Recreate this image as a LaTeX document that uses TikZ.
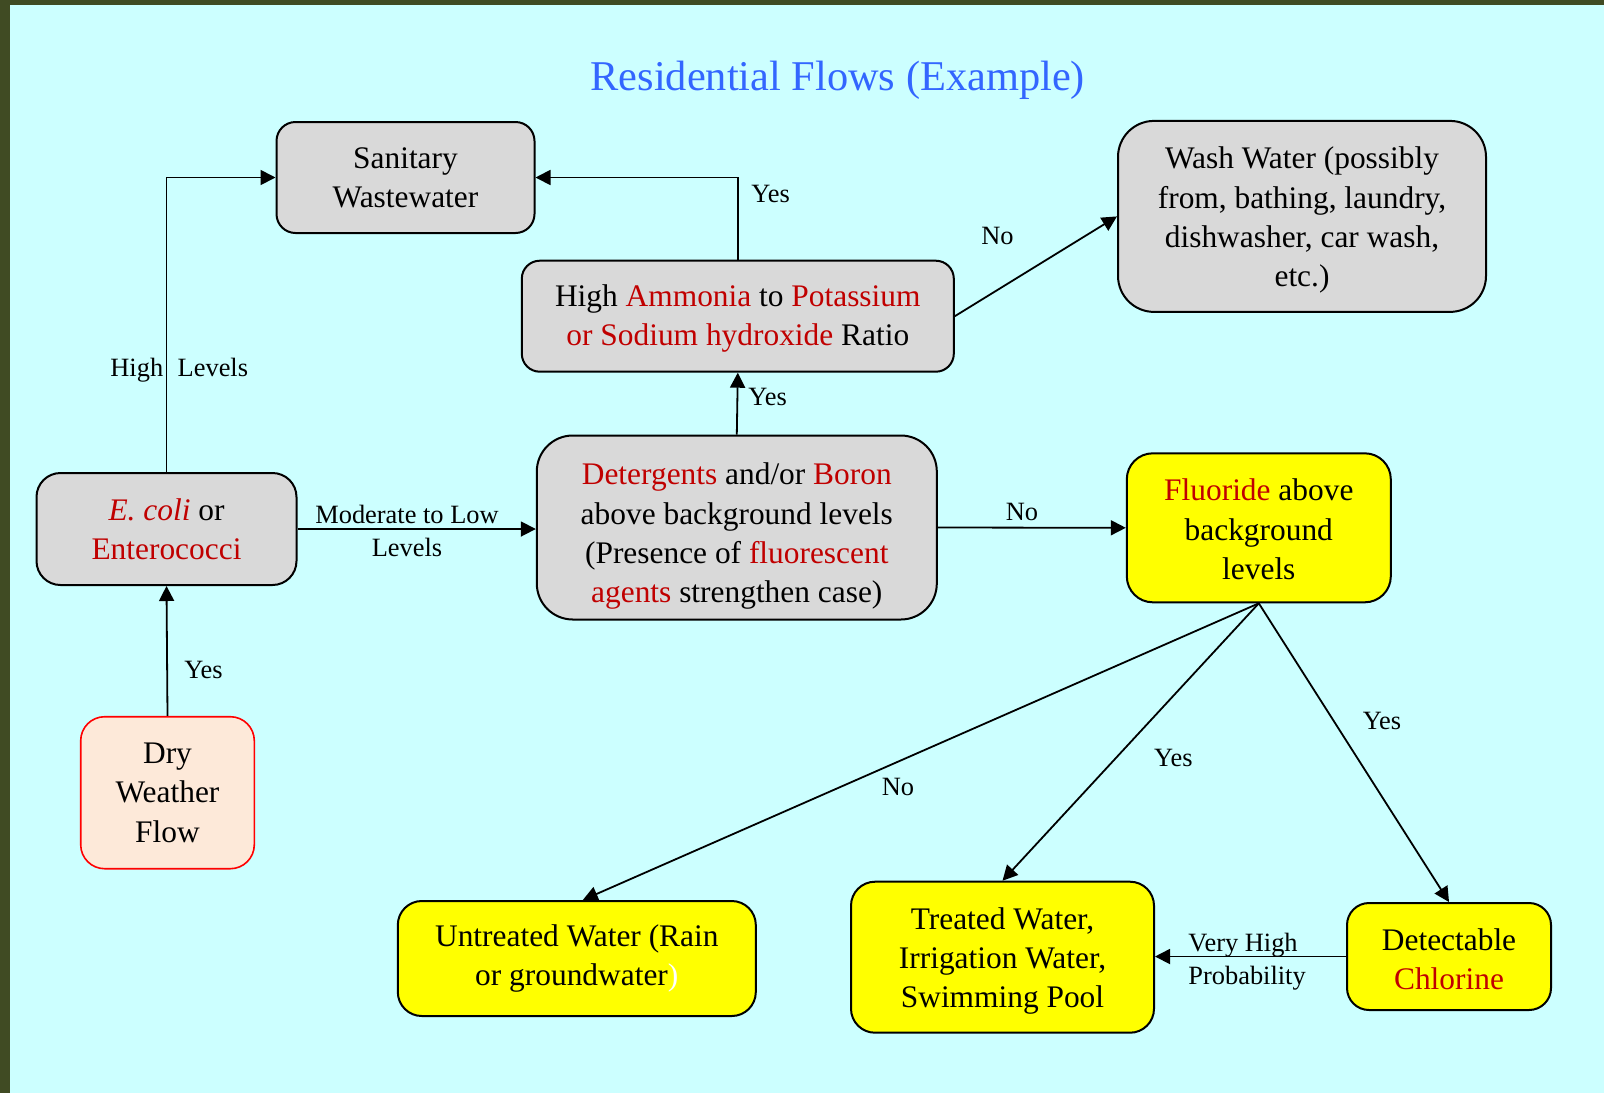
\documentclass[tikz,border=0pt]{standalone}
\usepackage{fontspec}
\setmainfont{Liberation Serif}
\usetikzlibrary{arrows.meta,calc}
\definecolor{bgcyan}{RGB}{204,255,255}
\definecolor{framegreen}{RGB}{64,75,35}
\definecolor{boxgray}{RGB}{217,217,217}
\definecolor{txtred}{RGB}{192,0,0}
\definecolor{titleblue}{RGB}{51,102,255}
\definecolor{peach}{RGB}{253,233,217}
\definecolor{yel}{RGB}{255,255,0}
\newcommand{\rd}[1]{\textcolor{txtred}{#1}}
\begin{document}
\begin{tikzpicture}[x=0.5pt,y=-0.5pt,
  box/.style={draw=black, line width=1pt, align=center, inner sep=0pt,
    font=\fontsize{15.7}{19.65}\selectfont},
  graybox/.style={box, fill=boxgray},
  yelbox/.style={box, fill=yel},
  tshift/.style 2 args={text height=#1, text depth=#2},
  conn/.style={line width=0.9pt, -{Triangle[length=7.5pt,width=7.5pt]}},
  lbl/.style={font=\fontsize{13.2}{16.5}\selectfont, inner sep=0pt, align=center},
]
\useasboundingbox (0,0) rectangle (1604,1093);
\fill[bgcyan] (0,0) rectangle (1604,1093);
\fill[framegreen] (0,0) rectangle (10,1093);
\fill[framegreen] (0,0) rectangle (1604,5);

\node[font=\fontsize{21.2}{25}\selectfont, text=titleblue, inner sep=0pt, anchor=base] (title) at (837.7,90) {Residential Flows (Example)};

\node[graybox, minimum width=129pt, minimum height=55.5pt, rounded corners=9.5pt] (san) at (405.5,177.5) {Sanitary\\Wastewater};
\node[graybox, tshift={73.85pt}{3.4pt}, minimum width=184pt, minimum height=95.5pt, rounded corners=18pt] (wash) at (1302,216.4) {Wash Water (possibly\\from, bathing, laundry,\\dishwasher, car wash,\\etc.)};
\node[graybox, tshift={33.15pt}{3.4pt}, minimum width=216pt, minimum height=55.5pt, rounded corners=9pt] (amm) at (737.8,316.2) {High \rd{Ammonia} to \rd{Potassium}\\\rd{or Sodium hydroxide} Ratio};
\node[graybox, minimum width=130pt, minimum height=56pt, rounded corners=12pt] (ecoli) at (166.5,529) {\rd{\textit{E. coli}} or\\\rd{Enterococci}};
\node[graybox, tshift={78.55pt}{3.4pt}, minimum width=200pt, minimum height=92pt, rounded corners=18pt] (det) at (736.8,527.5) {\rd{Detergents} and/or \rd{Boron}\\above background levels\\(Presence of \rd{fluorescent}\\\rd{agents} strengthen case)};
\node[yelbox, tshift={51.7pt}{0.2pt}, minimum width=132pt, minimum height=74.5pt, rounded corners=13pt] (fl) at (1258.8,527.8) {\rd{Fluoride} above\\background\\levels};
\node[box, fill=peach, draw=red, line width=0.8pt, minimum width=86.8pt, minimum height=76pt, rounded corners=12pt] (dry) at (167.5,792.7) {Dry\\Weather\\Flow};
\node[yelbox, minimum width=179pt, minimum height=57.5pt, rounded corners=12pt] (unt) at (576.8,958.5) {Untreated Water (Rain\\or groundwater\textcolor{white}{)}};
\node[yelbox, tshift={53.8pt}{3.4pt}, minimum width=151.5pt, minimum height=75.5pt, rounded corners=12pt] (trt) at (1002.5,957.2) {Treated Water,\\Irrigation Water,\\Swimming Pool};
\node[yelbox, tshift={33.55pt}{0.2pt}, minimum width=102pt, minimum height=53.5pt, rounded corners=11pt] (dchl) at (1449,956.5) {Detectable\\\rd{Chlorine}};

\draw[conn] (dry.north) -- (ecoli.south);
\draw[conn] (ecoli.north) |- (san.west);
\draw[conn] (amm.north) |- (san.east);
\draw[conn] (det.north) -- (amm.south);
\draw[conn] (amm.east) -- (wash.west);
\draw[conn] (ecoli.east) -- (ecoli.east -| det.west);
\draw[conn] (det.east) -- (fl.west);
\draw[conn] (fl.south) -- ($(unt.north)+(6,0)$);
\draw[conn] (fl.south) -- (trt.north);
\draw[conn] (fl.south) -- (dchl.north);
\draw[conn] (dchl.west) -- (dchl.west -| trt.east);

\node[lbl, anchor=base west] (l1) at (110,376.7) {High\hspace{0.55em}Levels};
\node[lbl, anchor=base west] (l2) at (751,202) {Yes};
\node[lbl, anchor=base west] (l3) at (748,405) {Yes};
\node[lbl] (l4) at (997.4,236.3) {No};
\node[lbl] (l5) at (407,531) {Moderate to Low\\Levels};
\node[lbl, anchor=base] (l6) at (1022,520.7) {No};
\node[lbl] (l7) at (203.5,670) {Yes};
\node[lbl] (l8) at (898,786.7) {No};
\node[lbl] (l9) at (1173.4,758) {Yes};
\node[lbl] (l10) at (1382,721) {Yes};
\node[lbl, anchor=west, align=left] (l11) at (1188,962) {Very High\\Probability};
\end{tikzpicture}
\end{document}
